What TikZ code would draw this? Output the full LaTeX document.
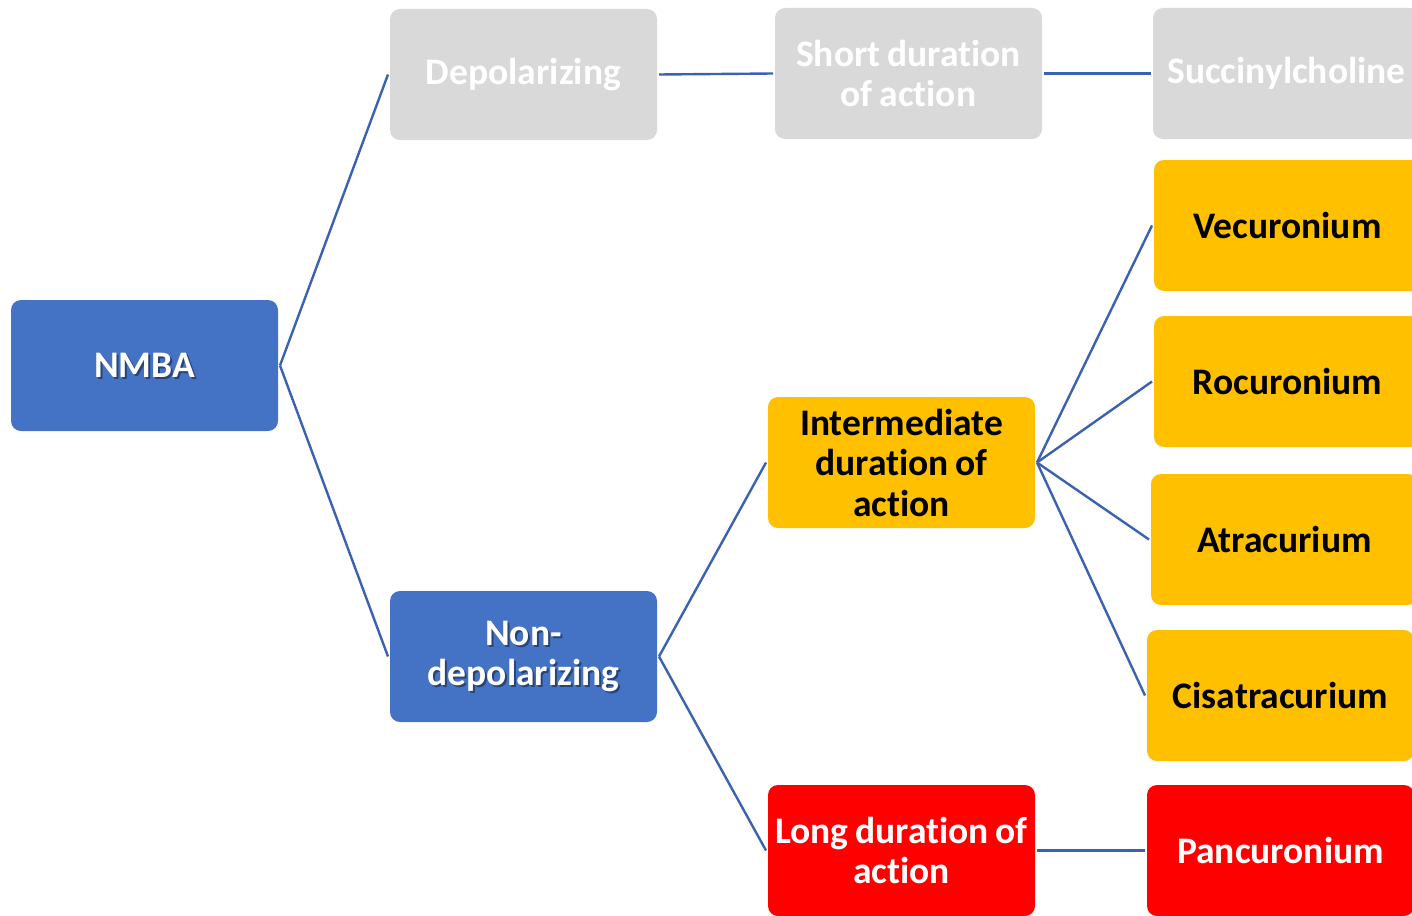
\documentclass[tikz,border=0pt]{standalone}
\usepackage{fontspec}
\setmainfont{Carlito}[Ligatures=NoCommon, WordSpace={0.8,0.5,0.5}]
\definecolor{boxblue}{HTML}{4472C4}
\definecolor{boxgray}{HTML}{D9D9D9}
\definecolor{boxamber}{HTML}{FFC000}
\definecolor{boxred}{HTML}{FF0000}
\definecolor{linkblue}{HTML}{3A62B0}
\begin{document}
\begin{tikzpicture}[x=1pt,y=-1pt,
  box/.style={rectangle, rounded corners=10pt, minimum width=267pt, minimum height=131pt,
    inner sep=2pt, outer sep=2pt, align=center,
    font=\fontsize{37.5}{40.5}\selectfont\bfseries},
  bluebox/.style={box, fill=boxblue, text=white},
  graybox/.style={box, fill=boxgray, text=white},
  amberbox/.style={box, fill=boxamber, text=black},
  redbox/.style={box, fill=boxred, text=white},
  shade/.style={box, text=black, text opacity=0.4},
  link/.style={draw=linkblue, line width=2.4pt}]
\useasboundingbox (0,0) rectangle (1412,915);
\clip (0,0) rectangle (1412,915);

% root and first level
\node[bluebox, text opacity=0] (nmba) at (144.5,365.5) {NMBA};
\node[shade] (nmbas) at (146.5,367.5) {NMBA};
\node[box, text=white] (nmbat) at (144.5,365.5) {NMBA};

\node[graybox] (dep) at (523.5,74.5) {Depolarizing};

\node[bluebox, text opacity=0] (nondep) at (523.5,656.5) {Non-\\depolarizing};
\node[shade] (nondeps) at (525.5,658.5) {Non-\\depolarizing};
\node[box, text=white] (nondept) at (523.5,656.5) {Non-\\depolarizing};

% duration classes
\node[graybox] (short) at (908.5,73.5) {Short duration\\of action};
\node[amberbox] (inter) at (901.5,462.5) {Intermediate\\duration of\\action};
\node[redbox] (long) at (901.5,850.5) {Long duration of\\action};

% agents (boxes run past the right edge)
\node[graybox] (succ) at (1286.5,73.5) {Succinylcholine};
\node[amberbox] (vec) at (1287.5,225.5) {Vecuronium};
\node[amberbox] (roc) at (1287.5,381.5) {Rocuronium};
\node[amberbox] (atr) at (1284.5,539.5) {Atracurium};
\node[amberbox] (cis) at (1280.5,695.5) {Cisatracurium};
\node[redbox] (panc) at (1280.5,850.5) {Pancuronium};

% connectors
\draw[link] (nmba.east) -- (dep.west);
\draw[link] (nmba.east) -- (nondep.west);
\draw[link] (dep.east) -- (short.west);
\draw[link] (short.east) -- (succ.west);
\draw[link] (nondep.east) -- (inter.west);
\draw[link] (nondep.east) -- (long.west);
\draw[link] (inter.east) -- (vec.west);
\draw[link] (inter.east) -- (roc.west);
\draw[link] (inter.east) -- (atr.west);
\draw[link] (inter.east) -- (cis.west);
\draw[link] (long.east) -- (panc.west);
\end{tikzpicture}
\end{document}
